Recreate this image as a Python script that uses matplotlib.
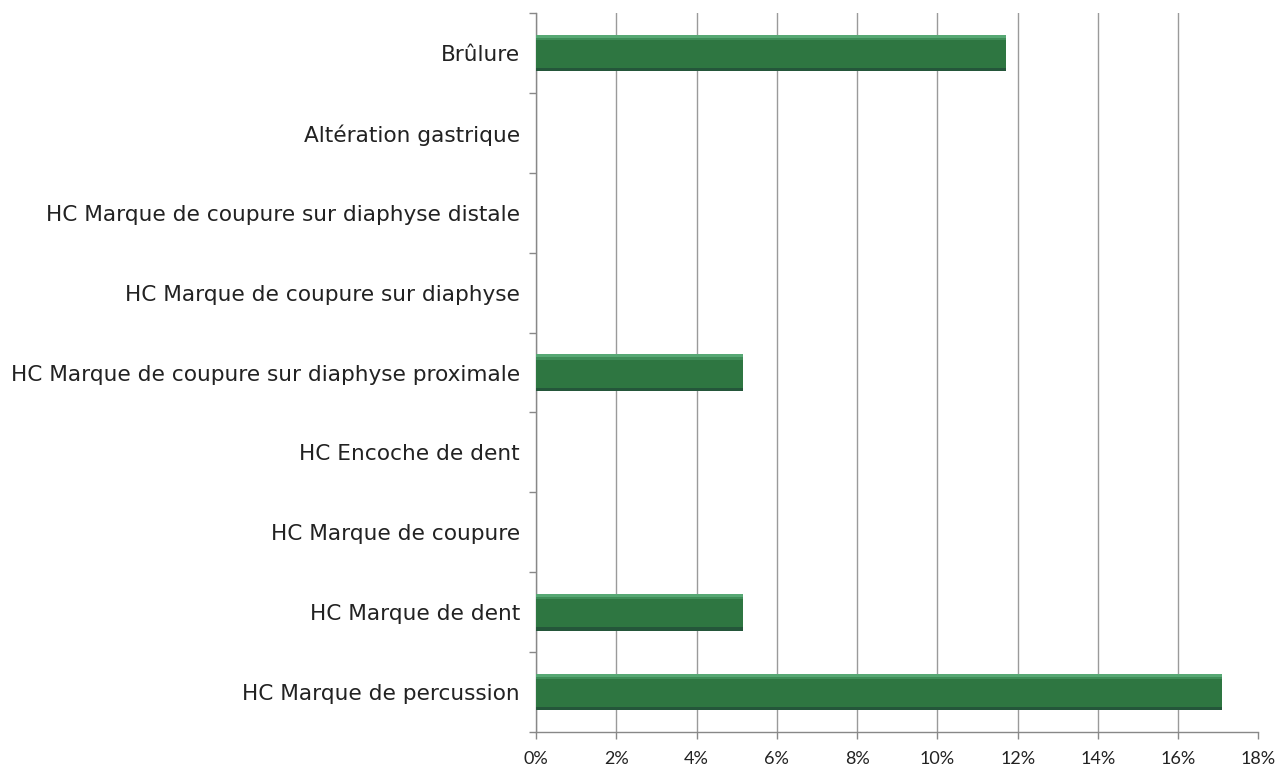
import numpy as np
import matplotlib.pyplot as plt
import matplotlib.ticker as ptick

categories = [
  "HC Marque de percussion",
  "HC Marque de dent",
  "HC Marque de coupure",
  "HC Encoche de dent",
  "HC Marque de coupure sur diaphyse proximale",
  "HC Marque de coupure sur diaphyse",
  "HC Marque de coupure sur diaphyse distale",
  "Altération gastrique",
  "Brûlure",
]
values = [17.1, 5.15, 0, 0, 5.15, 0, 0, 0, 11.7]
xticks = [0, 2, 4, 6, 8, 10, 12, 14, 16, 18]

plt.rcParams['font.family'] = ['DejaVu Sans']

fig = plt.figure(figsize=(12.81, 7.67), dpi=100)
ax = fig.add_axes([0.4184, 0.0456, 0.5640, 0.9374])

y = np.arange(len(categories))
h = 0.46

# bar body, light top rim and darker lower edge
ax.barh(y, values, height=h, color="#2e7641", zorder=3)
ax.barh(y + h / 2 - 0.02, values, height=0.04, color="#57a874", zorder=4)
ax.barh(y + h / 2 - 0.055, values, height=0.03, color="#3f8d58", zorder=4)
ax.barh(y - h / 2 + 0.02, values, height=0.04, color="#24563a", zorder=4)

ax.set_xlim(0, 18)
ax.set_ylim(-0.5, len(categories) - 0.5)

ax.set_xticks(xticks)
ax.xaxis.set_major_formatter(ptick.FuncFormatter(lambda v, p: f"{v:.0f}%"))
ax.tick_params(axis='x', length=5, width=1, color="#888888", pad=9)
for t in ax.get_xticklabels():
  t.set_family(['Lato', 'DejaVu Sans'])
  t.set_fontsize(13)
  t.set_color("#222222")
ax.grid(axis='x', color="#9a9a9a", linewidth=1, zorder=0)
ax.xaxis.get_gridlines()[-1].set_visible(False)

ax.set_yticks(y)
ax.set_yticklabels(categories, fontsize=15.6, color="#222222")
ax.set_yticks(np.arange(-0.5, len(categories), 1), minor=True)
ax.tick_params(axis='y', which='major', length=0, pad=11.5)
ax.tick_params(axis='y', which='minor', length=5, width=1, color="#888888")

for side in ["top", "right"]:
  ax.spines[side].set_visible(False)
for side in ["left", "bottom"]:
  ax.spines[side].set_color("#888888")
  ax.spines[side].set_linewidth(1)

fig.savefig("out.png", dpi=100)
